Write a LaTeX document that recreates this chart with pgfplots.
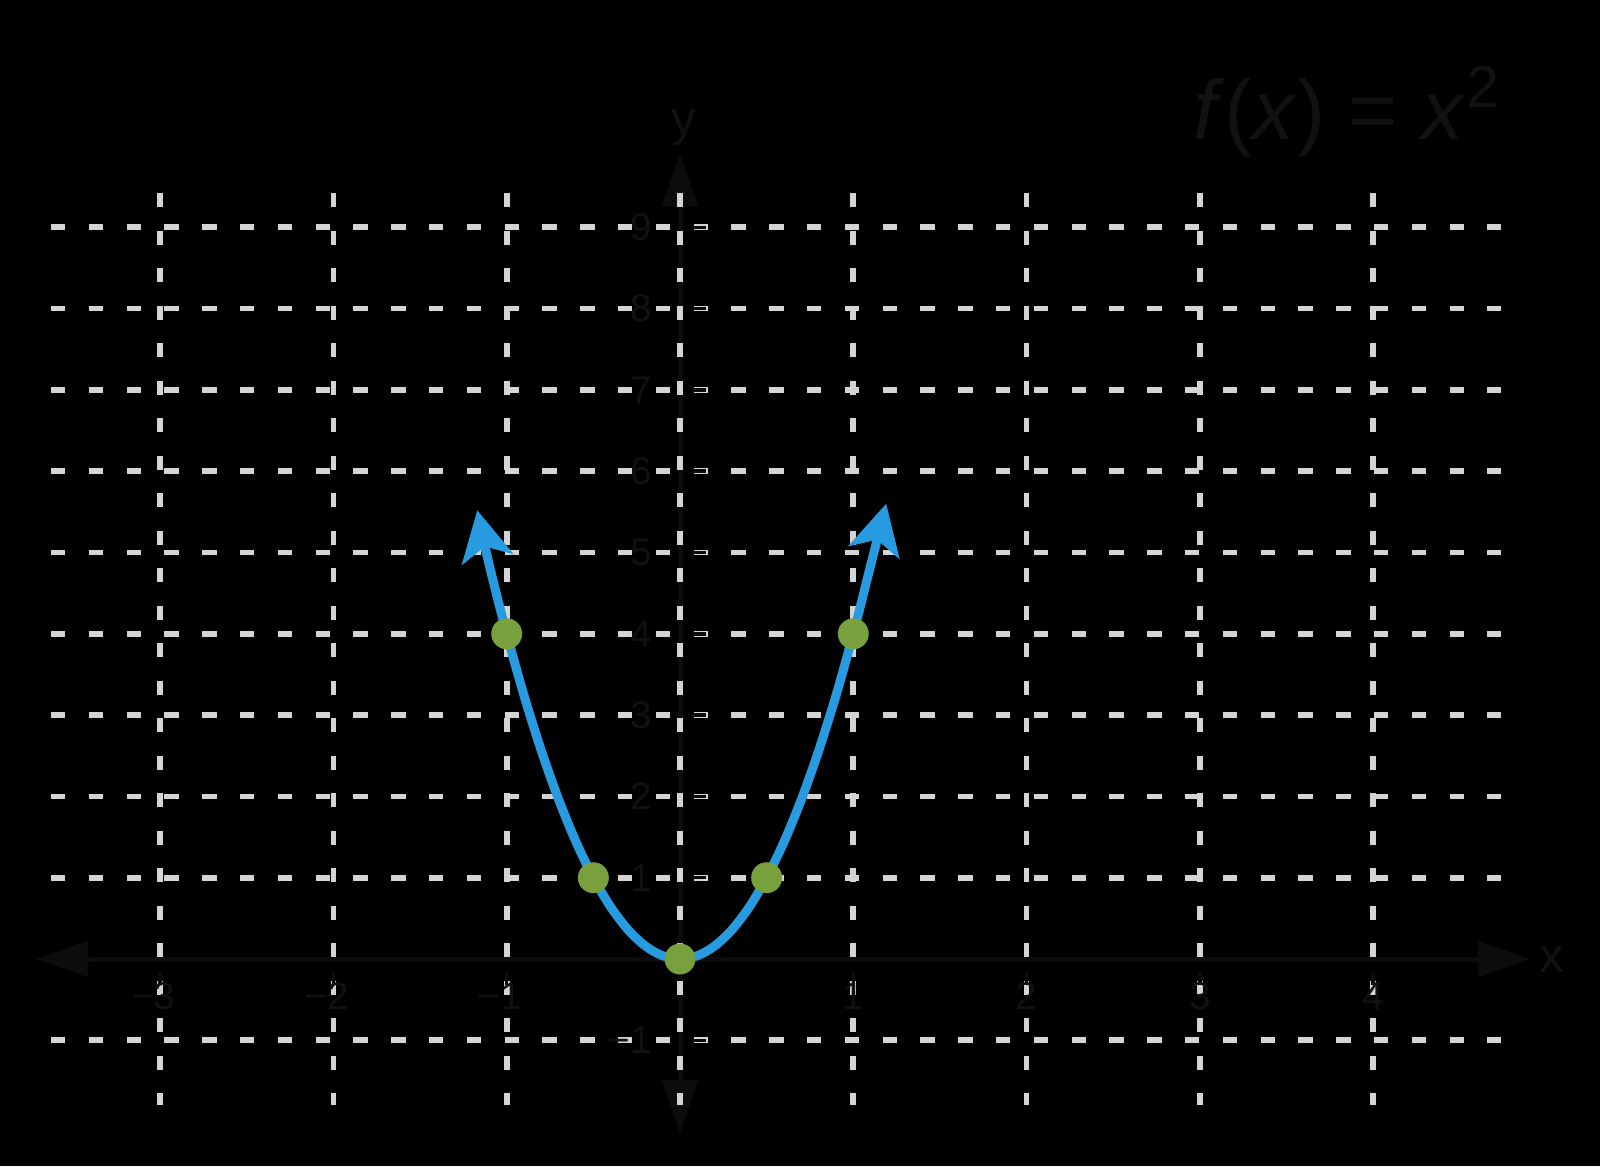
\documentclass[border=0pt]{standalone}
\usepackage{pgfplots}
\pgfplotsset{compat=1.18}
\usepackage{fontspec}
\setmainfont{Liberation Sans}
\usetikzlibrary{arrows.meta}
\definecolor{curveblue}{HTML}{289BE0}
\definecolor{ptgreen}{HTML}{78A03C}
\definecolor{gridgray}{HTML}{D4D4D4}
\definecolor{txt}{HTML}{111111}
\definecolor{axc}{HTML}{0C0C0C}
\begin{document}
\begin{tikzpicture}
\fill[black] (0,0) rectangle (16,11.66);
\useasboundingbox (0,0) rectangle (16,11.66);
\begin{axis}[
  at={(0,0)}, anchor=south west,
  width=16cm, height=11.66cm, scale only axis,
  xmin=-3.924, xmax=5.309, ymin=-2.546, ymax=11.796,
  axis lines=none, ticks=none, clip=false,
]
% axes
\draw[axc, line width=0.05cm, {Triangle[length=0.53cm,width=0.35cm]}-{Triangle[length=0.53cm,width=0.35cm]}]
  (axis cs:-3.72,0) -- (axis cs:4.91,0);
\draw[axc, line width=0.05cm, {Triangle[length=0.53cm,width=0.35cm]}-{Triangle[length=0.53cm,width=0.35cm]}]
  (axis cs:0,-2.14) -- (axis cs:0,9.91);
% grid
\pgfplotsinvokeforeach{-3,-2,-1,0,1,2,3,4}{
  \draw[gridgray, line width=0.057cm, dash pattern=on 0.14cm off 0.235cm]
    (axis cs:#1,9.42) -- (axis cs:#1,-1.80);
}
\pgfplotsinvokeforeach{-1,1,2,3,4,5,6,7,8,9}{
  \draw[gridgray, line width=0.057cm, dash pattern=on 0.145cm off 0.233cm]
    (axis cs:-3.63,#1) -- (axis cs:4.74,#1);
}
% ticks
\pgfplotsinvokeforeach{-1,1,2,3,4,5,6,7,8,9}{
  \draw[axc, line width=0.035cm] (axis cs:0.07,#1) -- (axis cs:0.15,#1);
}
\pgfplotsinvokeforeach{-3,-2,-1,1,2,3,4}{
  \draw[axc, line width=0.035cm] (axis cs:#1,-0.16) -- (axis cs:#1,-0.32);
}
% tick labels
\pgfplotsinvokeforeach{1,2,3,4,5,6,7,8,9}{
  \node[txt, anchor=east, font=\fontsize{11}{13}\selectfont, inner sep=0pt] at (axis cs:-0.16,#1) {#1};
}
\node[txt, anchor=east, font=\fontsize{11}{13}\selectfont, inner sep=0pt] at (axis cs:-0.16,-1) {−1};
\pgfplotsinvokeforeach{1,2,3,4}{
  \node[txt, anchor=center, font=\fontsize{11}{13}\selectfont, inner sep=0pt] at (axis cs:#1,-0.46) {#1};
}
\node[txt, font=\fontsize{11}{13}\selectfont, inner sep=0pt] at (axis cs:-3.04,-0.46) {−3};
\node[txt, font=\fontsize{11}{13}\selectfont, inner sep=0pt] at (axis cs:-2.04,-0.46) {−2};
\node[txt, font=\fontsize{11}{13}\selectfont, inner sep=0pt] at (axis cs:-1.04,-0.46) {−1};
\node[txt, font=\fontsize{14}{16}\selectfont, inner sep=0pt] at (axis cs:5.03,0) {x};
\node[txt, font=\fontsize{14}{16}\selectfont, inner sep=0pt] at (axis cs:0.02,10.23) {y};
\node[txt, font=\fontsize{24}{28}\selectfont, inner sep=0pt] at (axis cs:3.85,10.42) {\textit{f}(\textit{x}) = \textit{x}\textsuperscript{2}};
% curve
\addplot[curveblue, line width=0.09cm, smooth,
  {Stealth[length=0.5cm,width=0.52cm,inset=0.13cm]}-{Stealth[length=0.5cm,width=0.52cm,inset=0.13cm]}]
  coordinates {
  (-1.17,5.52) (-1.1,4.84) (-1.0,4.0) (-0.9,3.24) (-0.8,2.56) (-0.7,1.96) (-0.6,1.44)
  (-0.5,1.0) (-0.4,0.64) (-0.3,0.36) (-0.2,0.16) (-0.1,0.04) (0,0)
  (0.1,0.04) (0.2,0.16) (0.3,0.36) (0.4,0.64) (0.5,1.0) (0.6,1.44) (0.7,1.96)
  (0.8,2.56) (0.9,3.24) (1.0,4.0) (1.1,4.84) (1.19,5.6)
  };
\addplot[only marks, mark=*, mark size=4.2pt, color=ptgreen, mark options={fill=ptgreen, draw=ptgreen}]
  coordinates {(-1,4) (-0.5,1) (0,0) (0.5,1) (1,4)};
\end{axis}
\end{tikzpicture}
\end{document}
